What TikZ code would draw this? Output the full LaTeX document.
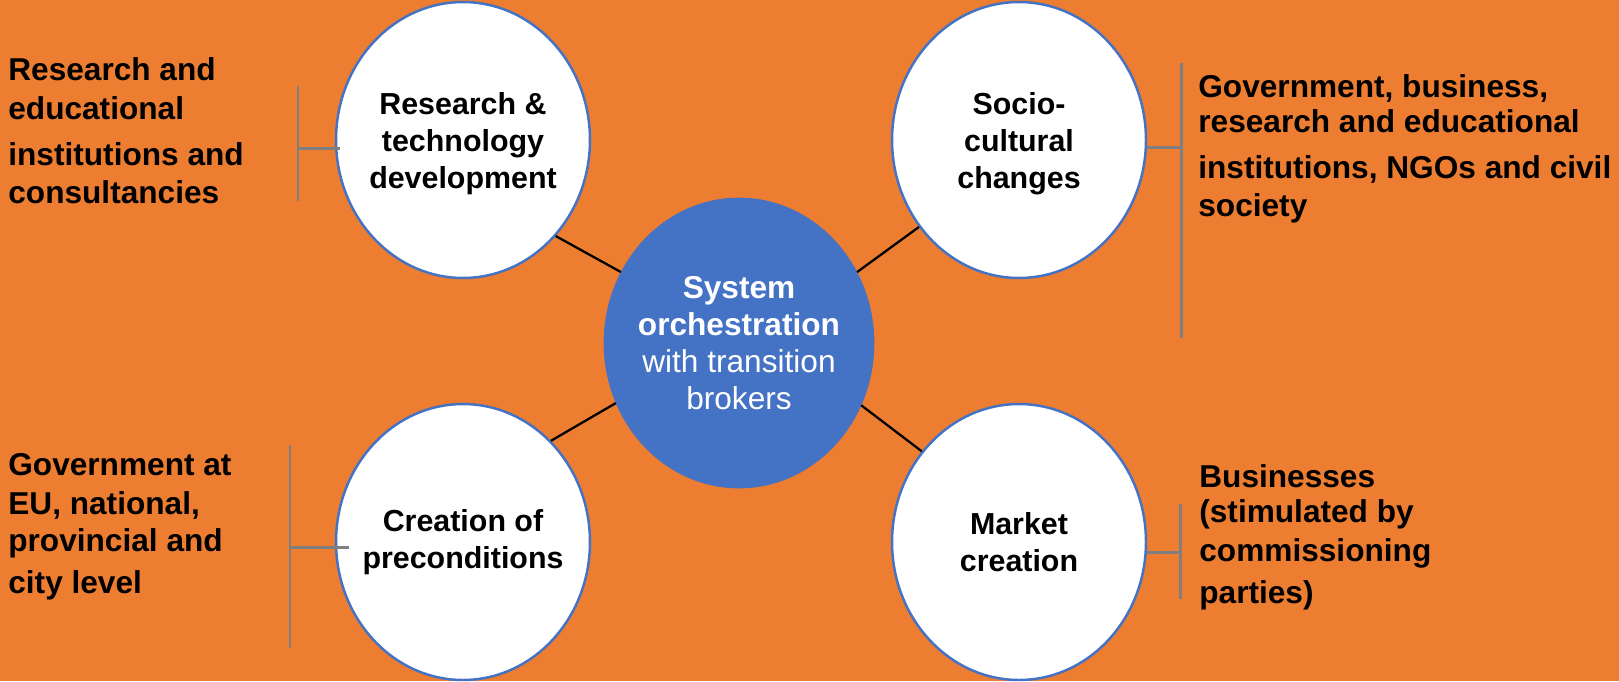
\documentclass[tikz,border=0pt]{standalone}
\usepackage{fontspec}
\setmainfont{Liberation Sans}
\usetikzlibrary{shapes.geometric}
\usetikzlibrary{calc}
\definecolor{bgorange}{HTML}{ED7D31}
\definecolor{hubblue}{HTML}{4472C4}
\definecolor{brgray}{HTML}{7F7F7F}

\begin{document}
\begin{tikzpicture}[
    x=0.02cm, y=-0.02cm,
    area/.style={ellipse, draw=hubblue, line width=1.4pt, fill=white, minimum width=5.08cm, minimum height=5.52cm, inner sep=0pt},
    area text/.style={align=center, font=\fontsize{17.3}{21}\selectfont\bfseries},
    hub/.style={ellipse, draw=hubblue, fill=hubblue, minimum width=5.4cm, minimum height=5.8cm, inner sep=0pt},
    hub text/.style={align=center, text=white, font=\fontsize{18}{21}\selectfont},
    actor/.style={anchor=west, align=left, inner sep=0pt, font=\fontsize{18}{22}\selectfont\bfseries},
    link/.style={black, line width=1.3pt},
    bracket/.style={brgray, line width=1.7pt}
    ]

    % background
    \useasboundingbox (0,0) rectangle (1619,681);
    \fill[bgorange] (0,0) rectangle (1619,681);
    % hub and areas
    \node[hub, label={[hub text]center:{\textbf{System}\\\textbf{orchestration}\\with transition\\brokers}}] (sys) at (739,343) {};
    \node[area, label={[area text, yshift=-0.08cm]center:{Research \&\\technology\\development}}] (rtd) at (463,140) {};
    \node[area, label={[area text, yshift=-0.08cm]center:{Socio-\\cultural\\changes}}] (soc) at (1019,140) {};
    \node[area, label={[area text]center:{Creation of\\preconditions}}] (pre) at (463,542) {};
    \node[area, label={[area text]center:{Market\\creation}}] (mkt) at (1019,542) {};
    % links
    \draw[link] (sys.149.6) -- (rtd.-46.8);
    \draw[link] (sys.31) -- (soc.221.6);
    \draw[link] (sys.206.8) -- (pre.49.9);
    \draw[link] (sys.-27.9) -- (mkt.137.4);
    % actors
    \node[actor] (rtd-actor) at (8,131) {Research and\\educational\\[4pt]institutions and\\consultancies};
    \node[actor] (soc-actor) at (1198,149) {Government, business,\\[-2pt]research and educational\\[4pt]institutions, NGOs and civil\\society};
    \node[actor] (pre-actor) at (8,527) {Government at\\EU, national,\\[-1pt]provincial and\\[2pt]city level};
    \node[actor] (mkt-actor) at (1199,537) {Businesses\\[-2pt](stimulated by\\commissioning\\[2pt]parties)};
    % brackets
    \coordinate (tl-top) at (298,86);
    \coordinate (tl-bot) at (298,201);
    \coordinate (tl-mid) at (298,148);
    \coordinate (tr-top) at (1181,63);
    \coordinate (tr-bot) at (1181,338);
    \coordinate (tr-mid) at (1181,147);
    \coordinate (bl-top) at (290,445);
    \coordinate (bl-bot) at (290,648);
    \coordinate (bl-mid) at (290,547);
    \coordinate (br-top) at (1180,504);
    \coordinate (br-bot) at (1180,599);
    \coordinate (br-mid) at (1180,552);
    \draw[bracket] (tl-top) -- (tl-bot);
    \draw[bracket] (tl-mid) -- ($(rtd.west |- tl-mid)+(5,0)$);
    \draw[bracket] (tr-top) -- (tr-bot);
    \draw[bracket] (tr-mid) -- (soc.east |- tr-mid);
    \draw[bracket] (bl-top) -- (bl-bot);
    \draw[bracket] (bl-mid) -- ($(pre.west |- bl-mid)+(14,0)$);
    \draw[bracket] (br-top) -- (br-bot);
    \draw[bracket] (br-mid) -- (mkt.east |- br-mid);
\end{tikzpicture}
\end{document}
